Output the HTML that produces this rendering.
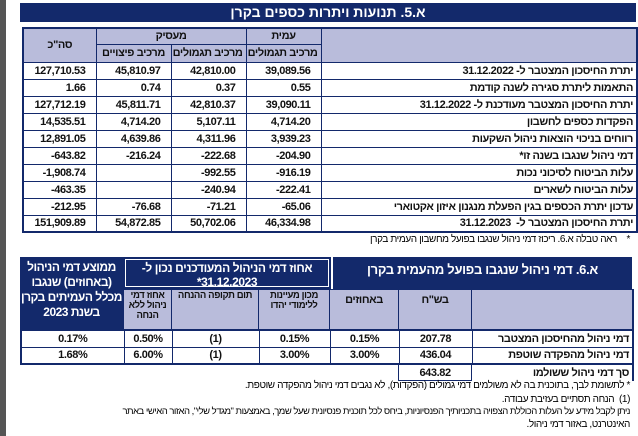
<!DOCTYPE html>
<html><head><meta charset="utf-8"><style>
body{margin:0;width:638px;height:436px;background:#fff;position:relative;overflow:hidden;font-family:"Liberation Sans",sans-serif;font-weight:bold;color:#111}
.strip{position:absolute;left:0;top:0;width:6px;height:436px;background:#555}
.abs{position:absolute}
.navy{background:#13296b;color:#fff}
table{border-collapse:collapse;table-layout:fixed;direction:rtl;position:absolute}
td{border:1px solid #13296b;padding:0 3px;font-size:11px;letter-spacing:-0.4px;line-height:14px;white-space:nowrap;overflow:hidden}
.h td{background:#b9bcdb;text-align:center;font-size:11px}
.n{text-align:center;direction:ltr}
.r{text-align:right;direction:ltr;padding-right:10px}
.t{text-align:right}
.note{position:absolute;right:8px;font-size:10px;letter-spacing:-0.4px;direction:rtl;text-align:right;white-space:nowrap;font-weight:normal;color:#000}
.sub{vertical-align:top;line-height:10px !important;white-space:normal !important;font-size:9.5px !important;padding:1px 1px !important}
</style></head><body>
<div class="strip"></div>
<div class="abs navy" style="left:20px;top:3px;width:616px;height:19px;text-align:center;font-size:14px;line-height:19px;direction:rtl">א.5. תנועות ויתרות כספים בקרן</div>

<table style="left:22px;top:27px;width:614px;border:2px solid #13296b">
<colgroup><col style="width:316px"><col style="width:75px"><col style="width:75px"><col style="width:75px"><col style="width:73px"></colgroup>
<tr class="h" style="height:16px"><td rowspan="2"></td><td>עמית</td><td colspan="2">מעסיק</td><td rowspan="2">סה"כ</td></tr>
<tr class="h" style="height:18px"><td>מרכיב תגמולים</td><td>מרכיב תגמולים</td><td>מרכיב פיצויים</td></tr>
<tr style="height:17px"><td class="t">יתרת החיסכון המצטבר ל- 31.12.2022</td><td class="r">39,089.56</td><td class="r">42,810.00</td><td class="r">45,810.97</td><td class="r">127,710.53</td></tr>
<tr style="height:17px"><td class="t">התאמות ליתרת סגירה לשנה קודמת</td><td class="r">0.55</td><td class="r">0.37</td><td class="r">0.74</td><td class="r">1.66</td></tr>
<tr style="height:17px"><td class="t">יתרת החיסכון המצטבר מעודכנת ל- 31.12.2022</td><td class="r">39,090.11</td><td class="r">42,810.37</td><td class="r">45,811.71</td><td class="r">127,712.19</td></tr>
<tr style="height:17px"><td class="t">הפקדות כספים לחשבון</td><td class="r">4,714.20</td><td class="r">5,107.11</td><td class="r">4,714.20</td><td class="r">14,535.51</td></tr>
<tr style="height:17px"><td class="t">רווחים בניכוי הוצאות ניהול השקעות</td><td class="r">3,939.23</td><td class="r">4,311.96</td><td class="r">4,639.86</td><td class="r">12,891.05</td></tr>
<tr style="height:17px"><td class="t">דמי ניהול שנגבו בשנה זו*</td><td class="r">-204.90</td><td class="r">-222.68</td><td class="r">-216.24</td><td class="r">-643.82</td></tr>
<tr style="height:17px"><td class="t">עלות הביטוח לסיכוני נכות</td><td class="r">-916.19</td><td class="r">-992.55</td><td class="r"></td><td class="r">-1,908.74</td></tr>
<tr style="height:17px"><td class="t">עלות הביטוח לשארים</td><td class="r">-222.41</td><td class="r">-240.94</td><td class="r"></td><td class="r">-463.35</td></tr>
<tr style="height:17px"><td class="t">עדכון יתרת הכספים בגין הפעלת מנגנון איזון אקטוארי</td><td class="r">-65.06</td><td class="r">-71.21</td><td class="r">-76.68</td><td class="r">-212.95</td></tr>
<tr style="height:17px"><td class="t">יתרת החיסכון המצטבר ל- &nbsp;31.12.2023</td><td class="r">46,334.98</td><td class="r">50,702.06</td><td class="r">54,872.85</td><td class="r">151,909.89</td></tr>
</table>
<div class="note" style="top:234px">*&nbsp;&nbsp;&nbsp; ראה טבלה א.6. ריכוז דמי ניהול שנגבו בפועל מחשבון העמית בקרן</div>

<div class="abs navy" style="left:20px;top:257px;width:103px;height:72px;text-align:center;font-size:12px;letter-spacing:-0.5px;line-height:15px;direction:rtl;padding-top:3px;box-sizing:border-box">ממוצע דמי הניהול (באחוזים) שנגבו מכלל העמיתים בקרן בשנת 2023</div>
<div class="abs navy" style="left:123px;top:257px;width:208px;height:32px;text-align:center;font-size:12px;letter-spacing:-0.4px;line-height:14px;direction:rtl;box-sizing:border-box;border:2px solid #13296b;outline:1px solid #fff;outline-offset:-3px;padding-top:2px">אחוז דמי הניהול המעודכנים נכון ל-<br>31.12.2023*</div>
<div class="abs navy" style="left:331px;top:257px;width:301px;height:32px;text-align:center;font-size:13px;letter-spacing:-0.3px;line-height:26px;direction:rtl;box-sizing:border-box;border-left:2px solid #fff">א.6. דמי ניהול שנגבו בפועל מהעמית בקרן</div>

<table style="left:123px;top:289px;width:509px;border-right:2px solid #13296b">
<colgroup><col style="width:161px"><col style="width:73px"><col style="width:69px"><col style="width:71px"><col style="width:87px"><col style="width:48px"></colgroup>
<tr class="h" style="height:40px"><td></td><td style="vertical-align:top;padding-top:3px">בש"ח</td><td style="vertical-align:top;padding-top:3px">באחוזים</td><td class="sub">מכון מעיינות ללימודי יהדו</td><td class="sub">תום תקופה ההנחה</td><td class="sub">אחוז דמי ניהול ללא הנחה</td></tr>
</table>
<table style="left:20px;top:329px;width:612px;border:2px solid #13296b">
<colgroup><col style="width:161px"><col style="width:73px"><col style="width:69px"><col style="width:71px"><col style="width:87px"><col style="width:48px"><col style="width:103px"></colgroup>
<tr style="height:17px"><td class="t">דמי ניהול מהחיסכון המצטבר</td><td class="n">207.78</td><td class="n">0.15%</td><td class="n">0.15%</td><td class="n">(1)</td><td class="n">0.50%</td><td class="n">0.17%</td></tr>
<tr style="height:17px"><td class="t">דמי ניהול מהפקדה שוטפת</td><td class="n">436.04</td><td class="n">3.00%</td><td class="n">3.00%</td><td class="n">(1)</td><td class="n">6.00%</td><td class="n">1.68%</td></tr>
</table>
<table style="left:398px;top:364px;width:236px">
<colgroup><col style="width:161px"><col style="width:73px"></colgroup>
<tr style="height:16px"><td class="t" style="border:none;border-right:2px solid #13296b">סך דמי ניהול ששולמו</td><td class="n" style="border-bottom:1px solid #13296b">643.82</td></tr>
</table>

<div class="note" style="top:380px">* לתשומת לבך, בתוכנית בה לא משולמים דמי גמולים (הפקדות), לא נגבים דמי ניהול מהפקדה שוטפת.</div>
<div class="note" style="top:394px">(1)&nbsp; הנחה תסתיים בעזיבת עבודה.</div>
<div class="note" style="top:406px;font-size:9.5px;letter-spacing:-0.5px">ניתן לקבל מידע על העלות הכוללת הצפויה בתכניותיך הפנסיוניות, ביחס לכל תוכנית פנסיונית שעל שמך, באמצעות "מגדל שלי", האזור האישי באתר</div>
<div class="note" style="top:419px">האינטרנט, באזור דמי ניהול.</div>
</body></html>
